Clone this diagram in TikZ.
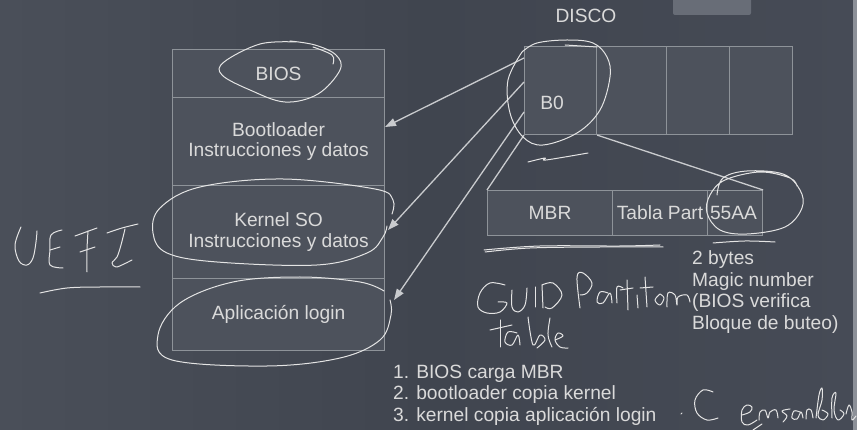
\documentclass[tikz,border=0pt]{standalone}
\usepackage{fontspec}
\setmainfont{Liberation Sans}
\usetikzlibrary{arrows.meta,calc}
\definecolor{bgl}{HTML}{4A4F59}
\definecolor{bgm}{HTML}{40454F}
\definecolor{bgr}{HTML}{464B56}
\definecolor{cellfill}{HTML}{4D525C}
\definecolor{cellline}{HTML}{8E9399}
\definecolor{txtc}{HTML}{DADADA}
\definecolor{linec}{HTML}{C9CBCE}
\definecolor{handc}{HTML}{E4E4E4}
\definecolor{tabc}{HTML}{686D77}
\definecolor{stripc}{HTML}{8C9098}
\begin{document}
\begin{tikzpicture}[x=1pt,y=-1pt,
  cell/.style={draw=cellline, fill=cellfill, line width=1.1pt, anchor=north west, inner sep=0pt,
    text=txtc, align=center, font=\fontsize{19.2}{20.5}\selectfont},
  txt/.style={text=txtc, inner sep=0pt, font=\fontsize{19.2}{21.4}\selectfont},
  conn/.style={draw=linec, line width=1.3pt},
  arr/.style={conn, -{Triangle[length=11pt,width=8pt]}},
  hand/.style={draw=handc, line width=1pt, line cap=round, line join=round},
  sm/.style={smooth, tension=0.6}]
\useasboundingbox (0,0) rectangle (857,430);
\shade[left color=bgl, right color=bgr, middle color=bgm] (0,0) rectangle (857,430);
\fill[tabc, rounded corners=2pt] (673,-5) rectangle (751,15);
\fill[stripc] (853,0) rectangle (857,430);

% left stack
\node[cell, minimum width=212pt, minimum height=48pt] (bios) at (172,49) {BIOS};
\node[cell, minimum width=212pt, minimum height=88pt] (boot) at (172,97) {Bootloader\\Instrucciones y datos};
\node[cell, minimum width=212pt, minimum height=93pt] (kern) at (172,185) {Kernel SO\\Instrucciones y datos};
\node[cell, minimum width=212pt, minimum height=72pt] (app) at (172,278) {Aplicación login};

% disk
\node[txt] (disco) at (586,16) {DISCO};
\node[cell, minimum width=72pt, minimum height=88pt] (b0) at (524,46) {};
\node[txt] (b0l) at (552,103) {B0};
\node[cell, minimum width=70pt, minimum height=88pt] (d1) at (596,46) {};
\node[cell, minimum width=63pt, minimum height=88pt] (d2) at (666,46) {};
\node[cell, minimum width=63pt, minimum height=88pt] (d3) at (729,46) {};

% MBR row
\node[cell, minimum width=125pt, minimum height=45pt] (mbr) at (487,190) {MBR};
\node[cell, minimum width=95pt, minimum height=45pt] (tp) at (612,190) {};
\node[cell, minimum width=55pt, minimum height=45pt] (aa) at (707,190) {};
\node[txt] (tpl) at (660,212.5) {Tabla Part};
\node[txt] (aal) at (733.5,212.5) {55AA};

\draw[conn] (b0.south west) -- (mbr.north west);
\draw[conn] (b0.south east) -- (aa.north east);

% arrows
\coordinate (s1) at (b0.west |- 0,58);
\coordinate (s2) at (b0.west |- 0,82);
\coordinate (s3) at (b0.west |- 0,112);
\coordinate (t1) at (385,127);
\coordinate (t2) at (388,230);
\coordinate (t3) at (394,300);
\draw[arr] (s1) -- (t1);
\draw[arr] (s2) -- (t2);
\draw[arr] (s3) -- (t3);

% texts
\node[txt, align=left, anchor=west] (notes) at (692,292) {2 bytes\\Magic number\\(BIOS verifica\\Bloque de buteo)};
\node[txt, align=left, anchor=west] (steps) at (393,395) {1. BIOS carga MBR\\2. bootloader copia kernel\\3. kernel copia aplicación login};

% handwriting: BIOS ellipse
\draw[hand] plot[sm] coordinates {(333,64) (332,55) (313,47)};
\draw[hand] plot[sm] coordinates {(296,42) (260,44) (224,62) (222,75) (250,90) (285,102) (318,94) (340,70) (336,55) (315,45) (290,41)};
% kernel ellipse
\draw[hand] plot[sm] coordinates {(392,214) (393,200) (375,189) (283,179) (200,187) (160,208) (153,233) (167,253) (217,262) (317,265) (367,253) (383,237) (387,226)};
% app ellipse
\draw[hand] plot[sm] coordinates {(384,291) (360,282) (300,277) (233,282) (180,303) (158,335) (172,360) (267,366) (340,358) (380,340) (391,315) (390,300)};
% B0 ellipse
\draw[hand] plot[sm] coordinates {(522,52) (508,80) (510,113) (523,137) (543,145) (577,133) (600,110) (610,77) (607,57) (593,43) (567,40) (537,43) (522,52)};
\draw[hand] (565,45) -- (597,47);
\draw[hand] plot[sm] coordinates {(528,162) (545,158) (546,160) (588,153)};
% 55AA ellipse
\draw[hand] plot[sm] coordinates {(717,195) (723,178) (747,171) (783,174) (800,190) (802,208) (785,227) (747,234) (720,230) (707,213) (710,195) (725,180) (760,172) (790,178) (797,186)};
% underlines
\draw[hand] plot[sm] coordinates {(485,252) (530,248) (600,247) (663,247)};
\draw[hand] plot[sm] coordinates {(484,250) (540,246) (620,246) (660,245)};
\draw[hand] plot[sm] coordinates {(713,243) (745,241) (775,242)};
% UEFI
\draw[hand] plot[sm] coordinates {(21,227) (15,245) (19,261) (27,265) (33,258) (36,242) (37,231)};
\draw[hand] plot[sm] coordinates {(62,230) (51,235) (50,250) (50,265) (63,268)};
\draw[hand] (50,250) -- (60,247);
\draw[hand] plot[sm] coordinates {(75,236) (86,232) (97,228)};
\draw[hand] plot[sm] coordinates {(88,231) (87,250) (87,272)};
\draw[hand] (80,252) -- (95,247);
\draw[hand] plot[sm] coordinates {(107,233) (122,228) (138,224)};
\draw[hand] plot[sm] coordinates {(125,229) (121,245) (117,257) (112,263) (116,267) (124,264) (132,260)};
\draw[hand] plot[sm] coordinates {(40,293) (67,288) (100,287) (140,287)};
% GUID Partition table
\draw[hand] plot[sm] coordinates {(505,285) (490,283) (480,293) (478,307) (487,313) (500,312) (507,303) (498,302)};
\draw[hand] plot[sm] coordinates {(512,290) (512,307) (518,312) (525,305) (527,288)};
\draw[hand] (535,287) -- (535,307);
\draw[hand] (542,285) -- (543,308);
\draw[hand] plot[sm] coordinates {(542,285) (553,283) (562,295) (552,308) (545,307)};
\draw[hand] plot[sm] coordinates {(580,308) (577,277) (583,273) (592,283) (587,293) (580,295)};
\draw[hand] plot[sm] coordinates {(608,293) (600,292) (597,302) (603,303) (610,293) (612,303)};
\draw[hand] plot[sm] coordinates {(617,303) (617,287) (623,288)};
\draw[hand] (627,280) -- (628,310);
\draw[hand] (620,290) -- (633,288);
\draw[hand] (637,295) -- (638,308);
\draw[hand] (645,277) -- (647,307);
\draw[hand] (640,288) -- (653,287);
\draw[hand] plot[sm] coordinates {(660,294) (655,300) (660,305) (664,298) (660,294)};
\draw[hand] plot[sm] coordinates {(667,307) (668,293) (675,295) (677,305) (678,297) (687,295) (690,302)};
\draw[hand] (500,320) -- (500,347);
\draw[hand] (490,330) -- (512,325);
\draw[hand] plot[sm] coordinates {(517,333) (508,332) (505,342) (512,345) (518,335) (520,345)};
\draw[hand] plot[sm] coordinates {(528,317) (533,345) (540,335) (545,340) (537,348)};
\draw[hand] plot[sm] coordinates {(550,318) (548,335) (552,347)};
\draw[hand] plot[sm] coordinates {(555,340) (563,336) (558,333) (555,340) (560,347) (568,348)};
% C ensamblador
\draw[hand] plot[sm] coordinates {(713,392) (703,390) (695,400) (697,413) (707,420) (718,418)};
\draw[hand] plot[sm] coordinates {(742,415) (750,412) (752,407) (747,405) (742,410) (742,422) (748,425) (757,420)};
\draw[hand] plot[sm] coordinates {(759,420) (760,412) (765,410) (768,418) (770,412) (776,410) (778,418)};
\draw[hand] plot[sm] coordinates {(790,409) (782,411) (787,416) (783,422)};
\draw[hand] plot[sm] coordinates {(800,412) (794,411) (792,418) (797,419) (801,412) (803,418)};
\draw[hand] plot[sm] coordinates {(806,419) (807,410) (811,410) (813,418)};
\draw[hand] plot[sm] coordinates {(816,418) (819,395) (822,388) (822,400) (818,415) (823,420) (828,414) (822,410)};
\draw[hand] plot[sm] coordinates {(832,418) (832,398) (836,393) (834,410) (838,420) (844,414) (840,410)};
\draw[hand] plot[sm] coordinates {(846,414) (849,405) (852,412) (852,420) (856,416)};
\draw[hand] (681,414) -- (682,413);
\draw[hand] (753,430) -- (762,424);
\end{tikzpicture}
\end{document}
